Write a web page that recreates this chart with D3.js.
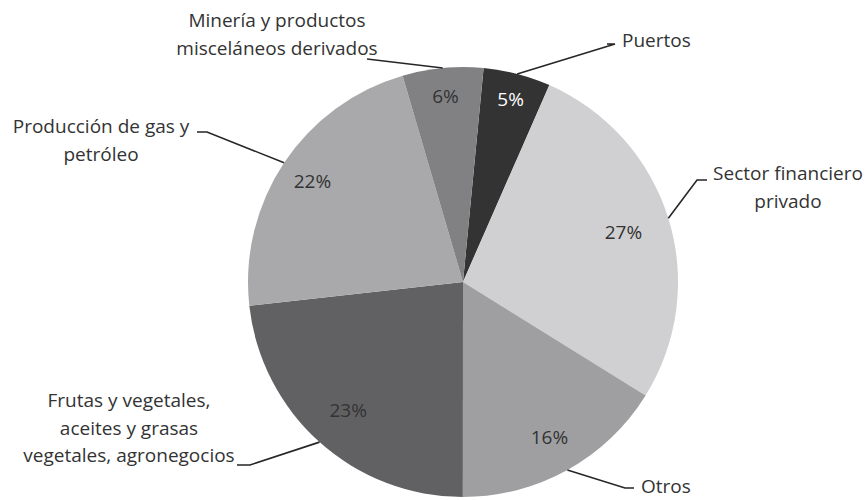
<!DOCTYPE html>
<html><head><meta charset="utf-8">
<script src="https://cdn.jsdelivr.net/npm/d3@7"></script>
<style>body{margin:0;background:#fff}svg{display:block}text{font-family:"Open Sans",sans-serif}</style>
</head><body><svg id="c" width="868" height="500"></svg>
<script>
const categories = ["Puertos","Sector financiero privado","Otros","Frutas y vegetales, aceites y grasas vegetales, agronegocios","Producción de gas y petróleo","Minería y productos misceláneos derivados"];
const values = [5,27,16,23,22,6];
const valueLabels = ["5%","27%","16%","23%","22%","6%"];
const labelLines = [["Puertos"],["Sector financiero","privado"],["Otros"],["Frutas y vegetales,","aceites y grasas","vegetales, agronegocios"],["Producción de gas y","petróleo"],["Minería y productos","misceláneos derivados"]];
const colors = ["#333333","#d0d0d2","#9f9fa2","#616163","#a9a9ab","#818184"];

// layout
const cx=463, cy=282, R=215;
const pctR=[189,168,178,172,181,186];
const pctColor=["#ffffff","#333","#333","#333","#333","#333"];
const FS=19;
const lab=[
 {x:622,y:47,anchor:"start",el:[[615,44],[607,44]]},
 {x:788,y:180,anchor:"middle",el:[[697,180],[707,180]]},
 {x:641,y:493,anchor:"start",el:[[625,488],[634,488]]},
 {x:129,y:407,anchor:"middle",el:[[250,465],[237,465]]},
 {x:101,y:133,anchor:"middle",el:[[207,132],[197,132]]},
 {x:277,y:27,anchor:"middle",el:[[367,59]]}
];

const svg=d3.select("#c");
const g=svg.append("g").attr("transform",`translate(${cx},${cy})`);
const off=5.5*Math.PI/180;
const pie=d3.pie().sort(null).value(d=>d).startAngle(off).endAngle(off+2*Math.PI);
const arcs=pie(values);
const arc=d3.arc().innerRadius(0).outerRadius(R);
g.selectAll("path.s").data(arcs).join("path").attr("class","s").attr("d",arc).attr("fill",(d,i)=>colors[i]);

arcs.forEach((d,i)=>{
  const a=(d.startAngle+d.endAngle)/2;
  const la=d3.arc().innerRadius(pctR[i]).outerRadius(pctR[i]);
  const c=la.centroid(d);
  g.append("text").attr("x",c[0]).attr("y",c[1]).attr("dy","0.35em").attr("text-anchor","middle")
   .attr("font-size",FS).attr("fill",pctColor[i]).text(valueLabels[i]);
  const ex=cx+R*Math.sin(a), ey=cy-R*Math.cos(a);
  const pts=[[ex,ey],...lab[i].el];
  svg.append("path").attr("d",d3.line()(pts)).attr("fill","none").attr("stroke","#262626").attr("stroke-width",1.6);
  const t=svg.append("text").attr("x",lab[i].x).attr("y",lab[i].y).attr("text-anchor",lab[i].anchor)
   .attr("font-size",FS).attr("fill","#333");
  labelLines[i].forEach((s,k)=>t.append("tspan").attr("x",lab[i].x).attr("dy",k?27.5:0).text(s));
});
</script></body></html>
